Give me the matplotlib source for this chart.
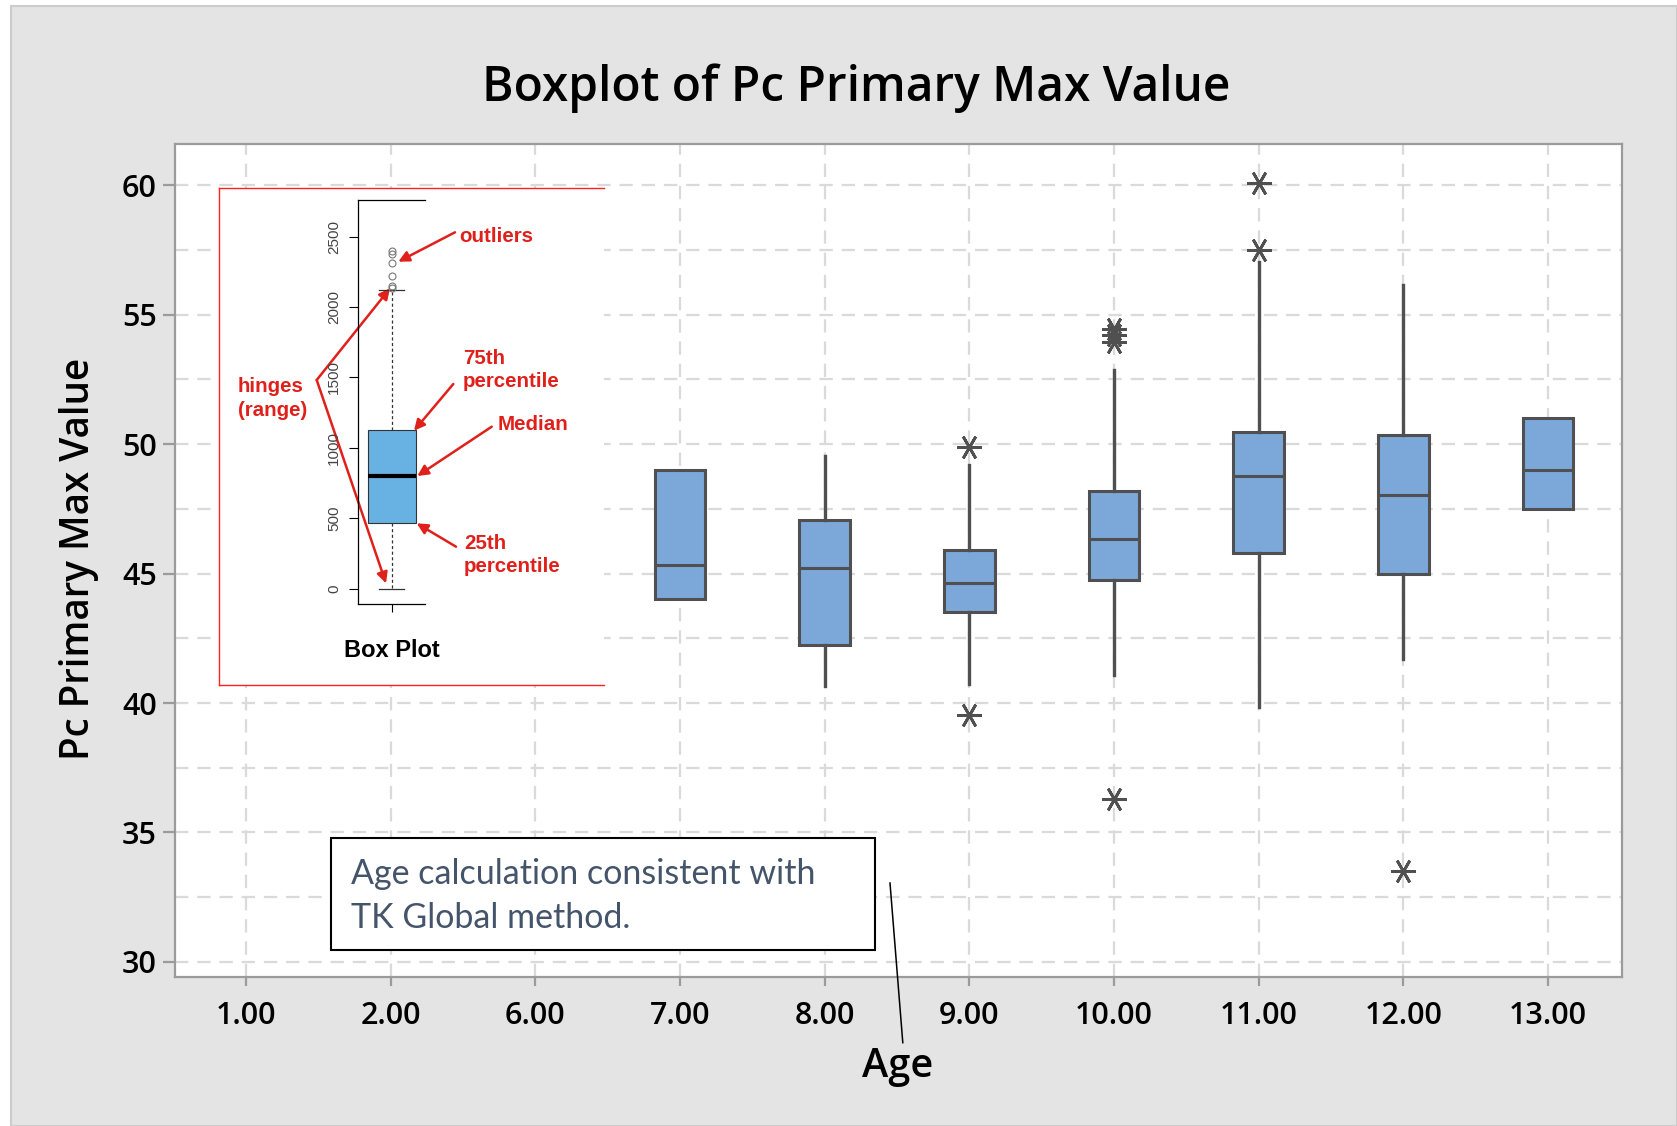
import matplotlib
matplotlib.use("Agg")
import numpy as np
import matplotlib.pyplot as plt
from matplotlib.patches import Rectangle
from matplotlib.lines import Line2D

# categories on the x axis
ages = ["1.00", "2.00", "6.00", "7.00", "8.00", "9.00", "10.00", "11.00", "12.00", "13.00"]

# box summaries (ages 1, 2, 6 show no box)
box_ages = ["7.00", "8.00", "9.00", "10.00", "11.00", "12.00", "13.00"]
q1 = [44.0, 42.25, 43.5, 44.75, 45.8, 45.0, 47.5]
med = [45.35, 45.2, 44.65, 46.35, 48.75, 48.05, 49.0]
q3 = [49.0, 47.05, 45.9, 48.2, 50.45, 50.35, 51.0]
whis_lo = [44.0, 40.65, 40.75, 41.1, 39.85, 41.7, 47.5]
whis_hi = [49.0, 49.55, 49.2, 52.85, 57.05, 56.15, 51.0]
outliers = [[], [], [49.9, 39.55], [54.45, 54.2, 53.95, 36.3], [60.1, 57.5], [33.5], []]

# the pasted "how to read a box plot" example
demo_q1, demo_med, demo_q3 = 469, 800, 1127
demo_lo, demo_hi = 0, 2121
demo_fliers = [2135, 2150, 2220, 2310, 2380, 2400]
demo_ticks = [0, 500, 1000, 1500, 2000, 2500]

W, H = 1677, 1126
fig = plt.figure(figsize=(W / 100, H / 100), dpi=100)
fig.patch.set_facecolor("white")


def fx(x):
    return x / W


def fy(y):
    return 1 - y / H


fig.add_artist(Rectangle((fx(11), 0), 1 - fx(11), fy(6), transform=fig.transFigure,
                         facecolor="#e4e4e4", edgecolor="#cccccc", lw=1.5, zorder=-10))

font = "Open Sans"
edge = "#505050"
grid_c = "#dadada"
spine_c = "#9b9b9b"

ax = fig.add_axes([fx(175), fy(976.7), (1621.7 - 175) / W, (976.7 - 144.3) / H])
ax.set_facecolor("white")

stats = []
for i in range(len(box_ages)):
    stats.append(dict(q1=q1[i], med=med[i], q3=q3[i], whislo=whis_lo[i],
                      whishi=whis_hi[i], fliers=outliers[i]))
pos = [ages.index(a) for a in box_ages]
ax.bxp(stats, positions=pos, widths=0.35, patch_artist=True, showcaps=False,
       manage_ticks=False,
       boxprops=dict(facecolor="#7ba7d9", edgecolor=edge, linewidth=2.2),
       medianprops=dict(color=edge, linewidth=2.2),
       whiskerprops=dict(color=edge, linewidth=2.4),
       flierprops=dict(marker=(6, 2, 90), markersize=18, markeredgecolor=edge,
                       markerfacecolor=edge, markeredgewidth=2, linestyle="none"))

ax.set_xlim(-0.49, 9.51)
ax.set_ylim(29.43, 61.58)
ax.set_xticks(range(len(ages)))
ax.set_xticklabels(ages)
ax.set_yticks([30, 35, 40, 45, 50, 55, 60])
ax.set_yticks(np.arange(32.5, 60, 5), minor=True)
ax.tick_params(which="minor", length=0)
ax.tick_params(axis="y", which="major", direction="out", length=8.6, width=1.6,
               color=spine_c, labelsize=22, pad=4.5)
ax.tick_params(axis="x", which="major", direction="out", length=6.5, width=1.6,
               color=spine_c, labelsize=22, pad=11)
for lab in ax.get_xticklabels() + ax.get_yticklabels():
    lab.set_fontfamily(font)
    lab.set_fontweight("semibold")
ax.grid(True, which="both", color=grid_c, lw=1.6, dashes=(6, 4))
ax.set_axisbelow(True)
for s in ax.spines.values():
    s.set_color(spine_c)
    s.set_linewidth(1.6)

fig.text(fx(856), fy(101), "Boxplot of Pc Primary Max Value", ha="center", va="baseline",
         fontsize=34.5, fontweight="semibold", family=font)
fig.text(fx(898), fy(1076.7), "Age", ha="center", va="baseline",
         fontsize=28.5, fontweight="semibold", family=font)
fig.text(fx(79), fy(559), "Pc Primary Max Value", ha="center", va="center", rotation=90,
         fontsize=27.8, fontweight="semibold", family=font)

# note box and its connector
fig.add_artist(Rectangle((fx(331), fy(950)), (875 - 331) / W, (950 - 838.3) / H,
                         transform=fig.transFigure, facecolor="white", edgecolor="black",
                         lw=1.5, zorder=5))
fig.text(fx(350.6), fy(896), "Age calculation consistent with\nTK Global method.",
         ha="left", va="center", fontsize=24.5, color="#44546a", family="Lato",
         linespacing=1.5, zorder=6)
fig.add_artist(Line2D([fx(890), fx(902.8)], [fy(883), fy(1042.7)], transform=fig.transFigure,
                      color="black", lw=1.1, zorder=6))

# inset picture: frame in pixel coordinates
red = "#e0201b"
ins = fig.add_axes([fx(219), fy(685), (604 - 219) / W, (685 - 188) / H], zorder=3)
ins.set_xlim(219, 604)
ins.set_ylim(685, 188)
ins.set_facecolor("white")
ins.set_xticks([])
ins.set_yticks([])
for k in ["left", "top", "bottom"]:
    ins.spines[k].set_color("#ff2020")
    ins.spines[k].set_linewidth(1.0)
ins.spines["right"].set_visible(False)

mini = fig.add_axes([fx(357.7), fy(604), (425 - 357.7) / W, (604 - 200) / H], zorder=4)
mini.patch.set_alpha(0)
mini.bxp([dict(q1=demo_q1, med=demo_med, q3=demo_q3, whislo=demo_lo, whishi=demo_hi,
               fliers=demo_fliers)], positions=[0], widths=48.4, capwidths=25,
         patch_artist=True, manage_ticks=False,
         boxprops=dict(facecolor="#68b1e3", edgecolor="#333333", linewidth=0.8),
         medianprops=dict(color="black", linewidth=3),
         whiskerprops=dict(color="#333333", linewidth=0.9, linestyle=(0, (2.5, 2))),
         capprops=dict(color="#333333", linewidth=0.9),
         flierprops=dict(marker="o", markersize=5, markerfacecolor="none",
                         markeredgecolor="#777777", markeredgewidth=0.8))
mini.set_xlim(-34, 33.3)
mini.set_ylim(-109, 2760)
mini.set_yticks(demo_ticks)
mini.set_yticklabels([str(t) for t in demo_ticks], rotation=90, va="center",
                     fontsize=11, color="#444444", family="Liberation Sans")
mini.set_xticks([0])
mini.set_xticklabels([""])
mini.tick_params(axis="y", length=6.8, width=0.8, pad=5)
mini.tick_params(axis="x", length=6, width=0.8)
mini.spines["right"].set_visible(False)
for k in ["left", "top", "bottom"]:
    mini.spines[k].set_linewidth(0.9)

lab_kw = dict(color=red, fontsize=14.8, fontweight="bold", family="Liberation Sans",
              linespacing=1.3)
ins.text(391.7, 650, "Box Plot", ha="center", va="center", fontsize=17,
         fontweight="bold", family="Liberation Sans", color="black")
ins.text(459, 237, "outliers", ha="left", va="center", **lab_kw)
ins.text(463, 370, "75th\npercentile", ha="left", va="center", **lab_kw)
ins.text(498, 424, "Median", ha="left", va="center", **lab_kw)
ins.text(464, 555, "25th\npercentile", ha="left", va="center", **lab_kw)
ins.text(238, 398.5, "hinges\n(range)", ha="left", va="center", **lab_kw)

arrow = dict(arrowstyle="-|>", color=red, lw=1.8, mutation_scale=16, shrinkA=0, shrinkB=0)
ins.annotate("", xy=(398.3, 261.7), xytext=(455, 232.3), arrowprops=arrow)
ins.annotate("", xy=(414, 430.7), xytext=(453.3, 384), arrowprops=arrow)
ins.annotate("", xy=(417.3, 476), xytext=(491.7, 426.7), arrowprops=arrow)
ins.annotate("", xy=(416.7, 523.3), xytext=(456, 546.7), arrowprops=arrow)
ins.annotate("", xy=(390, 288.3), xytext=(316.7, 380), arrowprops=arrow)
ins.annotate("", xy=(386, 583.3), xytext=(316.7, 380), arrowprops=arrow)

fig.savefig("out.png", dpi=100, facecolor=fig.get_facecolor())
